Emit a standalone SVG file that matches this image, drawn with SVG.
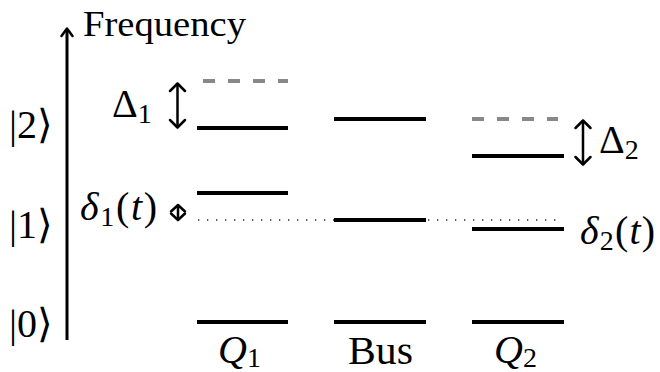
<svg xmlns="http://www.w3.org/2000/svg" width="660" height="372" viewBox="0 0 660 372">
  <style>
    .lvl { stroke: #000; stroke-width: 4; fill: none; }
    .ghost { stroke: #888; stroke-width: 4; fill: none; stroke-dasharray: 12 13; }
    .dots { stroke: #222; stroke-width: 1.3; fill: none; stroke-dasharray: 1.3 7.7; }
    .axis { stroke: #000; stroke-width: 3; fill: none; }
    .arr { stroke: #000; stroke-width: 2.5; fill: none; stroke-linecap: round; stroke-linejoin: round; }
    .it { font-style: italic; }
    .tx { font-family: "Liberation Serif", "Times New Roman", serif; font-size: 40px; fill: #000; }
  </style>

  <g class="tx">

  <!-- frequency axis -->
  <g id="axis">
    <line class="axis" x1="67" y1="340" x2="67" y2="30"/>
    <path class="arr" d="M61.5 36 L67 28.5 L72.5 36"/>
    <text x="83" y="36" style="font-size:35px" textLength="163" lengthAdjust="spacingAndGlyphs">Frequency</text>
  </g>

  <!-- state labels -->
  <g id="ket2"><text x="9" y="138">|2⟩</text></g>
  <g id="ket1"><text x="9" y="238">|1⟩</text></g>
  <g id="ket0"><text x="9" y="337">|0⟩</text></g>

  <!-- qubit 1 levels -->
  <g id="q1">
    <line class="ghost" x1="203" y1="81" x2="288" y2="81"/>
    <line class="lvl" x1="197" y1="128" x2="288" y2="128"/>
    <line class="lvl" x1="197" y1="193" x2="288" y2="193"/>
    <line class="lvl" x1="197" y1="322" x2="288" y2="322"/>
    <text x="218" y="363"><tspan class="it">Q</tspan><tspan style="font-size:28px" dy="4">1</tspan></text>
  </g>

  <!-- bus levels -->
  <g id="bus">
    <line class="lvl" x1="334" y1="119" x2="426" y2="119"/>
    <line class="lvl" x1="334" y1="220" x2="426" y2="220"/>
    <line class="lvl" x1="334" y1="322" x2="426" y2="322"/>
    <text x="348" y="364" textLength="65" lengthAdjust="spacingAndGlyphs">Bus</text>
  </g>

  <!-- qubit 2 levels -->
  <g id="q2">
    <line class="ghost" x1="472" y1="119" x2="558" y2="119"/>
    <line class="lvl" x1="472" y1="156" x2="564" y2="156"/>
    <line class="lvl" x1="472" y1="229" x2="564" y2="229"/>
    <line class="lvl" x1="472" y1="322" x2="564" y2="322"/>
    <text x="494" y="363"><tspan class="it">Q</tspan><tspan style="font-size:28px" dy="4">2</tspan></text>
  </g>

  <!-- detunings and anharmonicities -->
  <g id="connectors">
    <line class="dots" x1="198" y1="220" x2="334" y2="220"/>
    <line class="dots" x1="428" y1="220" x2="560" y2="220"/>

    <!-- Δ1 -->
    <line class="arr" x1="177.5" y1="84" x2="177.5" y2="127"/>
    <path class="arr" d="M170 91 L177.5 83.5 L185 91"/>
    <path class="arr" d="M170 120 L177.5 127.5 L185 120"/>

    <!-- Δ2 -->
    <line class="arr" x1="583" y1="121" x2="583" y2="164"/>
    <path class="arr" d="M575.5 128 L583 120.5 L590.5 128"/>
    <path class="arr" d="M575.5 157 L583 164.5 L590.5 157"/>

    <!-- δ1(t) -->
    <line class="arr" x1="178" y1="206" x2="178" y2="219" stroke-width="3"/>
    <path class="arr" d="M171 211.5 L178 205 L185 211.5" stroke-width="3.5"/>
    <path class="arr" d="M171 213.5 L178 220 L185 213.5" stroke-width="3.5"/>
  </g>

  <g id="labels">
    <text x="112" y="117">Δ<tspan style="font-size:28px" dy="6">1</tspan></text>
    <text x="599" y="153">Δ<tspan style="font-size:28px" dy="6">2</tspan></text>
    <text x="80" y="220" textLength="77" lengthAdjust="spacing"><tspan class="it">δ</tspan><tspan style="font-size:28px" dy="6">1</tspan><tspan dy="-6">(</tspan><tspan class="it">t</tspan>)</text>
    <text x="580" y="244" textLength="75" lengthAdjust="spacing"><tspan class="it">δ</tspan><tspan style="font-size:28px" dy="6">2</tspan><tspan dy="-6">(</tspan><tspan class="it">t</tspan>)</text>
  </g>

  </g>
</svg>
